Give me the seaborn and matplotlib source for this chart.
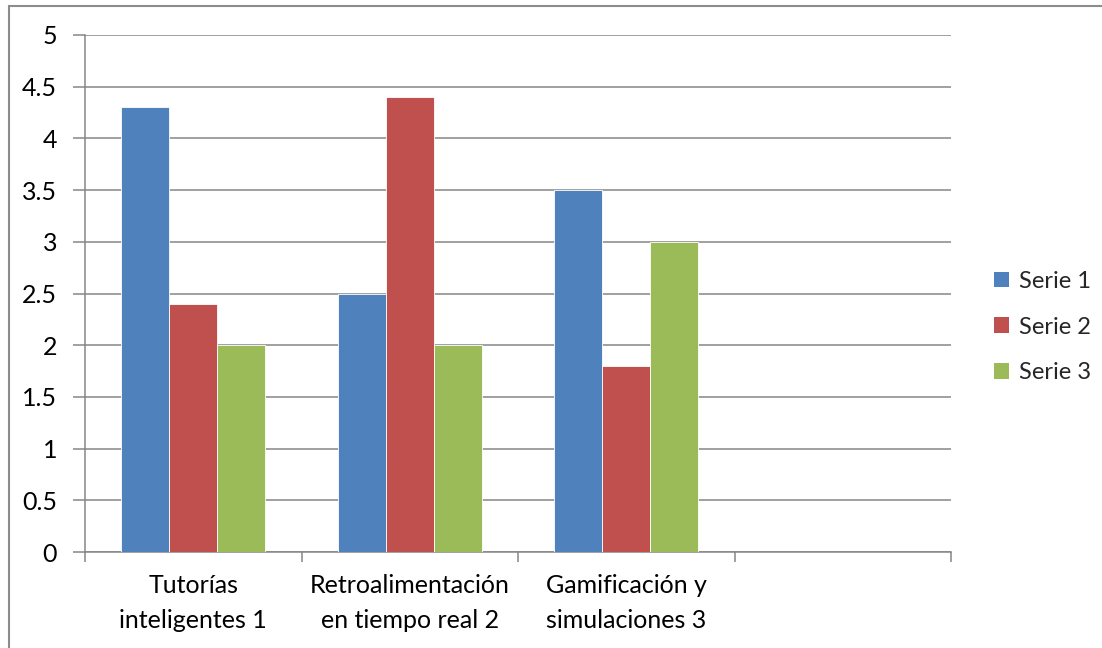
import matplotlib
matplotlib.use("Agg")
import matplotlib.pyplot as plt
from matplotlib.lines import Line2D
import seaborn as sns
import pandas as pd

categories = ["Tutorías\ninteligentes 1",
              "Retroalimentación\nen tiempo real 2",
              "Gamificación y\nsimulaciones 3",
              ""]
series_names = ["Serie 1", "Serie 2", "Serie 3"]
serie1 = [4.3, 2.5, 3.5]
serie2 = [2.4, 4.4, 1.8]
serie3 = [2.0, 2.0, 3.0]
colors = ["#4F81BD", "#C0504D", "#9BBB59"]
y_ticks = [0, 0.5, 1, 1.5, 2, 2.5, 3, 3.5, 4, 4.5, 5]
y_labels = ["0", "0.5", "1", "1.5", "2", "2.5", "3", "3.5", "4", "4.5", "5"]

rows = []
for name, vals in zip(series_names, [serie1, serie2, serie3]):
    for cat, v in zip(categories[:3], vals):
        rows.append({"categoria": cat, "serie": name, "valor": v})
df = pd.DataFrame(rows)

sns.set_theme(style="white")
plt.rcParams["font.family"] = ["Lato", "DejaVu Sans"]

grid_col = "#868686"
fs = 18
fig = plt.figure(figsize=(11.02, 6.48), dpi=100)
ax = fig.add_axes([85 / 1102, 1 - 552 / 648, (951 - 85) / 1102, (552 - 35) / 648])

sns.barplot(data=df, x="categoria", y="valor", hue="serie", order=categories,
            hue_order=series_names, palette=colors, width=0.667,
            saturation=1, ax=ax, errorbar=None, linewidth=0.6,
            edgecolor="#ffffff", zorder=3)

ax.set_xlim(-0.5, 3.5)
ax.set_ylim(0, 5)
ax.set_yticks(y_ticks)
ax.set_yticklabels(y_labels, fontsize=fs, color="#000000")
ax.yaxis.grid(True, color=grid_col, linewidth=1.1, zorder=0)
ax.set_axisbelow(True)

# category labels centred in each slot, tick marks on the slot boundaries
ax.set_xticks(range(len(categories)))
ax.set_xticklabels(categories, fontsize=fs, color="#000000", linespacing=1.6)
ax.tick_params(axis="x", which="major", length=0, pad=16)
ax.set_xticks([-0.5, 0.5, 1.5, 2.5, 3.5], minor=True)
ax.tick_params(axis="x", which="minor", length=7, width=1.1, color=grid_col,
               direction="out", bottom=True)
ax.tick_params(axis="y", length=9, width=1.1, color=grid_col, direction="out",
               left=True, pad=11)
ax.set_xlabel("")
ax.set_ylabel("")

for side in ["top", "right"]:
    ax.spines[side].set_visible(False)
for side in ["left", "bottom"]:
    ax.spines[side].set_color(grid_col)
    ax.spines[side].set_linewidth(1.1)

ax.legend_.remove()
handles = [plt.Rectangle((0, 0), 1, 1, facecolor=c, edgecolor="none") for c in colors]
fig.legend(handles, series_names, loc="center left",
           bbox_to_anchor=(994 / 1102, 1 - 327 / 648), frameon=False,
           fontsize=17, handlelength=0.65, handleheight=0.65, handletextpad=0.4,
           labelspacing=1.05, borderaxespad=0, borderpad=0)

# outer chart frame
fig.add_artist(Line2D([9 / 1102, 1], [1 - 5.5 / 648, 1 - 5.5 / 648],
                      transform=fig.transFigure, color="#8c8c8c", linewidth=1.5))
fig.add_artist(Line2D([9 / 1102, 9 / 1102], [0, 1 - 5.5 / 648],
                      transform=fig.transFigure, color="#8c8c8c", linewidth=1.5))

fig.savefig("out.png", dpi=100, facecolor="white")
